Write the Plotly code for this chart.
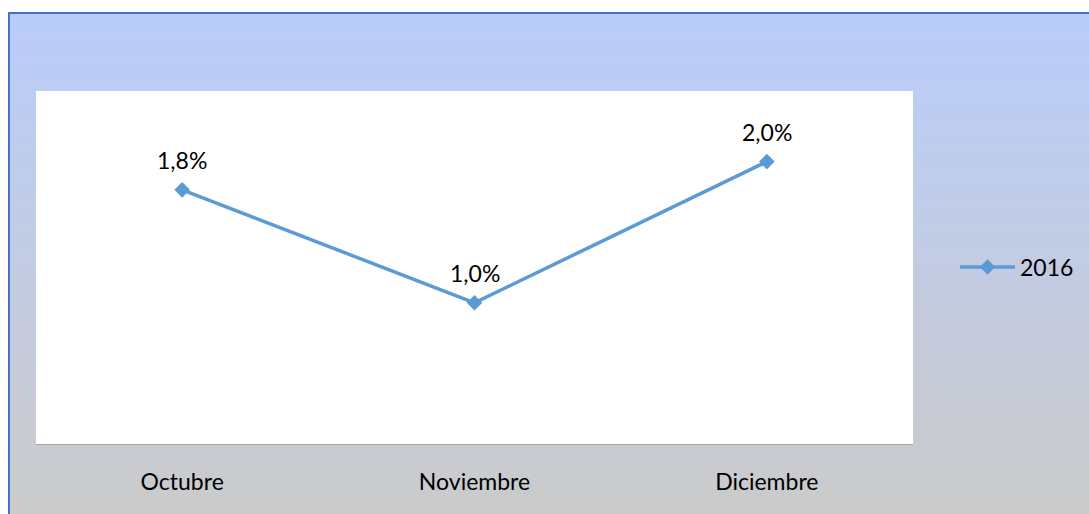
import plotly.graph_objects as go

categories = ["Octubre", "Noviembre", "Diciembre"]
values_2016 = [1.8, 1.0, 2.0]
series_name = "2016"

W, H = 1089, 514
FONT = "Lato"
FS = 23
LINE_COLOR = "#5b9bd5"


def px_x(x):
    return x / W


def px_y(y):
    return 1 - y / H


fig = go.Figure()
fig.add_trace(go.Scatter(
    x=categories, y=values_2016, name=series_name,
    mode="lines+markers",
    line=dict(color=LINE_COLOR, width=3.5),
    marker=dict(symbol="diamond", size=12, color=LINE_COLOR),
    showlegend=True,
))

for c, v in zip(categories, values_2016):
    fig.add_annotation(
        x=c, y=v, text=f"{v:.1f}%".replace(".", ","),
        showarrow=False, yshift=30,
        font=dict(family=FONT, size=FS, color="#000000"),
    )

# background gradient (frame fill)
top = (185, 204, 250)
bot = (203, 203, 203)
y_top_px = 13
n = 60
shapes = []
for i in range(n):
    t0 = i / n
    t1 = (i + 1) / n
    py0 = y_top_px + t0 * (H - y_top_px)
    py1 = y_top_px + t1 * (H - y_top_px) + 1
    tm = (t0 + t1) / 2
    col = tuple(round(top[k] + (bot[k] - top[k]) * tm) for k in range(3))
    shapes.append(dict(
        type="rect", xref="paper", yref="paper", layer="below",
        x0=px_x(9), x1=1, y0=max(0, px_y(py1)), y1=px_y(py0),
        line=dict(width=0), fillcolor=f"rgb{col}",
    ))
# frame border (left and top)
shapes.append(dict(type="line", xref="paper", yref="paper", layer="below",
                   x0=px_x(9), x1=px_x(9), y0=0, y1=px_y(12),
                   line=dict(color="#4472c4", width=2)))
shapes.append(dict(type="line", xref="paper", yref="paper", layer="below",
                   x0=px_x(8), x1=1, y0=px_y(13), y1=px_y(13),
                   line=dict(color="#4472c4", width=2)))
# white plot area
shapes.append(dict(type="rect", xref="x domain", yref="y domain", layer="below",
                   x0=0, x1=1, y0=0, y1=1, line=dict(width=0), fillcolor="#ffffff"))

fig.update_layout(
    width=W, height=H,
    margin=dict(l=0, r=0, t=0, b=0),
    paper_bgcolor="#ffffff",
    plot_bgcolor="rgba(0,0,0,0)",
    shapes=shapes,
    font=dict(family=FONT, size=FS, color="#000000"),
    xaxis=dict(
        domain=[px_x(36), px_x(913)],
        type="category", range=[-0.5, 2.5],
        showgrid=False, zeroline=False,
        showline=True, linecolor="#a6a6a6", linewidth=1,
        ticks="outside", ticklen=17, tickcolor="rgba(0,0,0,0)",
        tickfont=dict(family=FONT, size=FS, color="#000000"),
    ),
    yaxis=dict(
        domain=[px_y(444), px_y(91)],
        range=[0, 2.5], visible=False,
    ),
    showlegend=True,
    legend=dict(
        x=px_x(955), y=px_y(267), xanchor="left", yanchor="middle",
        bgcolor="rgba(0,0,0,0)",
        font=dict(family=FONT, size=FS, color="#000000"),
        itemwidth=55,
    ),
)

fig.write_html(
    "out.html",
    config={"displayModeBar": False},
    post_script="document.body.style.margin='0';document.body.style.overflow='hidden';",
)
